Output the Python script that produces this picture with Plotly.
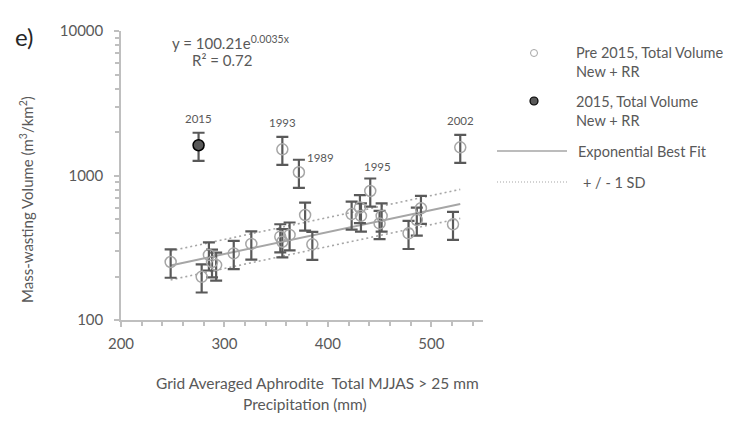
import plotly.graph_objects as go
import numpy as np

# ---- data ----
pre_x = [248, 278, 285, 288, 292, 309, 326, 354, 356, 363, 372, 356, 378, 385,
         423, 431, 432, 441, 450, 452, 478, 486, 490, 521, 528]
pre_y = [252, 199, 282, 252, 240, 289, 336, 377, 348, 388, 1053, 1518, 533, 334,
         541, 600, 525, 781, 466, 525, 398, 492, 593, 459, 1567]
pre_err = [56, 44, 62, 55, 53, 64, 74, 83, 77, 85, 232, 334, 117, 73,
           119, 132, 116, 172, 103, 116, 88, 108, 130, 101, 345]

y2015_x = [275]
y2015_y = [1620]
y2015_err = [356]

year_labels = ["2015", "1993", "1989", "1995", "2002"]
year_x = [275, 356, 372, 441, 528]
year_y = [1620, 1518, 1053, 781, 1567]

fit_a = 100.21
fit_b = 0.0035
fit_r2 = 0.72
sd_factor = 1.26
fit_xrange = [248, 528]

x_ticks = [200, 300, 400, 500]
y_ticks = [100, 1000, 10000]
y_ticktext = ["100", "1000", "10000"]

# ---- layout geometry ----
W, H = 741, 421
L, R, T, B = 121, 483, 31, 320


def px(p):
    return (p - L) / (R - L)


def py(p):
    return (B - p) / (B - T)


TXT = "#595959"
FONT = "Lato"

fig = go.Figure()

fx = np.linspace(fit_xrange[0], fit_xrange[1], 60)
fy = fit_a * np.exp(fit_b * fx)
for f in (sd_factor, 1 / sd_factor):
    fig.add_trace(go.Scatter(x=fx, y=fy * f, mode="lines",
                             line=dict(color="#a6a6a6", width=1.6, dash="2px,3px"),
                             hoverinfo="skip"))
fig.add_trace(go.Scatter(x=fx, y=fy, mode="lines",
                         line=dict(color="#a6a6a6", width=2),
                         hoverinfo="skip"))

fig.add_trace(go.Scatter(
    x=pre_x, y=pre_y, mode="markers",
    marker=dict(size=11, color="rgba(0,0,0,0)",
                line=dict(color="#a6a6a6", width=1.5)),
    error_y=dict(type="data", array=pre_err, color="#595959",
                 thickness=2.2, width=6)))
fig.add_trace(go.Scatter(
    x=y2015_x, y=y2015_y, mode="markers",
    marker=dict(size=11, color="#595959",
                line=dict(color="#000000", width=1.5)),
    error_y=dict(type="data", array=y2015_err, color="#595959",
                 thickness=2.2, width=6)))

ann = []
offsets = {"2015": (0, 27), "1993": (0, 27), "1989": (22, 15),
           "1995": (7, 25), "2002": (0, 27)}
for lab, xv, yv in zip(year_labels, year_x, year_y):
    dx, dy = offsets[lab]
    ann.append(dict(x=xv, y=np.log10(yv), xref="x", yref="y", text=lab,
                    showarrow=False, xshift=dx, yshift=dy, xanchor="center",
                    font=dict(size=11.5, color=TXT, family=FONT)))


def pann(text, x, y, size, anchor="center", color=TXT, **kw):
    ann.append(dict(x=px(x), y=py(y), xref="paper", yref="paper", text=text,
                    xanchor=anchor, yanchor="middle", showarrow=False,
                    font=dict(size=size, color=color, family=FONT), **kw))


pann("y = %.2fe<sup>%.4fx</sup>" % (fit_a, fit_b), 231, 42, 15)
pann("R² = %.2f" % fit_r2, 222, 60, 15)
pann("e)", 24, 36, 24, color="#262626")
pann("Mass-wasting Volume (m<sup>3</sup>/km<sup>2</sup>)", 26, 200, 15,
     textangle=-90)
pann("Grid Averaged Aphrodite  Total MJJAS > 25 mm", 317, 383, 15.5)
pann("Precipitation (mm)", 305, 404, 15.5)

leg_text = [("Pre 2015, Total Volume", 574, 53), ("New + RR", 574, 72),
            ("2015, Total Volume", 574, 101), ("New + RR", 574, 120),
            ("Exponential Best Fit", 576, 151), ("+ / - 1 SD", 581, 182)]
for t, x0, y0 in leg_text:
    pann(t, x0, y0, 14.5, anchor="left")

shapes = [
    dict(type="circle", xref="paper", yref="paper", xsizemode="pixel",
         ysizemode="pixel", xanchor=px(534), yanchor=py(53),
         x0=-3.5, x1=3.5, y0=-3.5, y1=3.5,
         line=dict(color="#a6a6a6", width=1), fillcolor="white"),
    dict(type="circle", xref="paper", yref="paper", xsizemode="pixel",
         ysizemode="pixel", xanchor=px(534), yanchor=py(101),
         x0=-4, x1=4, y0=-4, y1=4,
         line=dict(color="#000000", width=1.2), fillcolor="#595959"),
    dict(type="line", xref="paper", yref="paper", x0=px(497), x1=px(567),
         y0=py(151), y1=py(151), line=dict(color="#a6a6a6", width=1.5)),
    dict(type="line", xref="paper", yref="paper", x0=px(497), x1=px(567),
         y0=py(182), y1=py(182), line=dict(color="#a6a6a6", width=1.2, dash="1px,2px")),
]

axis_common = dict(showgrid=False, zeroline=False, showline=True,
                   linecolor="#bfbfbf", linewidth=1.5, ticks="outside",
                   ticklen=5, tickcolor="#bfbfbf", tickwidth=1.5,
                   tickfont=dict(size=15, color=TXT, family=FONT))

fig.update_layout(
    width=W, height=H, showlegend=False,
    margin=dict(l=L, r=W - R, t=T, b=H - B),
    paper_bgcolor="white", plot_bgcolor="white",
    annotations=ann, shapes=shapes,
    xaxis=dict(range=[200, 550], tickvals=x_ticks, ticklabelstandoff=4,
               minor=dict(dtick=20, ticks="outside", ticklen=4,
                          tickcolor="#bfbfbf", tickwidth=1.5),
               **axis_common),
    yaxis=dict(type="log", range=[2, 4], tickvals=y_ticks, ticktext=y_ticktext,
               ticklabelstandoff=8,
               minor=dict(tickvals=[200, 300, 400, 500, 600, 700, 800, 900,
                                    2000, 3000, 4000, 5000, 6000, 7000, 8000, 9000],
                          ticks="outside", ticklen=4,
                          tickcolor="#bfbfbf", tickwidth=1.5),
               **axis_common),
)

fig.write_html("out.html")
